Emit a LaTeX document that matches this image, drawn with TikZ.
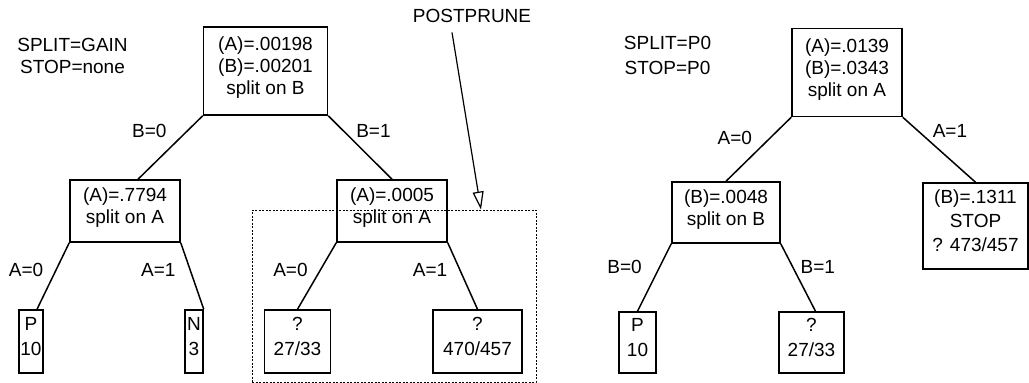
\documentclass[tikz,border=0pt]{standalone}
\usepackage{fontspec}
\setmainfont{Liberation Sans}
\usetikzlibrary{positioning, arrows.meta}

\begin{document}
\begin{tikzpicture}[
    x=1pt, y=-1pt,
    font=\fontsize{19}{22}\selectfont,
    tbox/.style={rectangle, draw, line width=1.5pt, inner sep=0pt, align=center,
                 execute at end node={\rule[-10pt]{0pt}{0pt}}},
    leaf/.style={tbox, font=\fontsize{19}{25}\selectfont},
    lbl/.style={inner sep=0pt},
    note/.style={align=center, inner sep=0pt},
    branch/.style={line width=1.5pt},
    prune/.style={draw, line width=0.9pt, dash pattern=on 2pt off 1.5pt}
  ]
  \useasboundingbox (0,0) rectangle (1029,383);

  % left tree
  \node[note] (setl) at (72.5,55.5) {SPLIT=GAIN\\STOP=none};
  \node[tbox, minimum width=124pt, minimum height=88pt] (root) at (265.5,71) {(A)=.00198\\(B)=.00201\\split on B};
  \node[tbox, minimum width=110pt, minimum height=62pt] (lchild) at (125,211) {(A)=.7794\\split on A};
  \node[tbox, minimum width=110pt, minimum height=62pt] (rchild) at (392,211) {(A)=.0005\\split on A};
  \node[leaf, minimum width=24pt, minimum height=63pt] (leafp) at (31,341.5) {P\\10};
  \node[leaf, minimum width=18pt, minimum height=63pt] (leafn) at (194,341.5) {N\\3};
  \node[leaf, minimum width=66pt, minimum height=63pt] (leafq) at (297.5,341.5) {?\\27/33};
  \node[leaf, minimum width=89pt, minimum height=63pt] (leafr) at (477.5,341.5) {?\\470/457};

  \draw[branch] (root.south west) -- ([xshift=13pt]lchild.north) node[lbl, pos=.24, left=20pt] {B=0};
  \draw[branch] (root.south east) -- (rchild.north) node[lbl, pos=.24, right=12pt] {B=1};
  \draw[branch] (lchild.south west) -- ([xshift=6pt]leafp.north) node[lbl, pos=.41, left=12pt] {A=0};
  \draw[branch] (lchild.south east) -- (leafn.north east) node[lbl, pos=.41, left=14pt] {A=1};
  \draw[branch] (rchild.south west) -- (leafq.north) node[lbl, pos=.41, left=12pt] {A=0};
  \draw[branch] (rchild.south east) -- (leafr.north) node[lbl, pos=.41, left=12pt] {A=1};

  % pruned part
  \node[prune, minimum width=284pt, minimum height=172pt] (pbox) at (394,296) {};
  \node[lbl] (ptext) at (472,15.5) {POSTPRUNE};
  \draw[line width=1.2pt, -{Triangle[open, length=18pt, width=11pt]}] ([xshift=-20pt, yshift=-10pt]ptext.south) -- ([xshift=87pt]pbox.north);

  % right tree
  \node[note, font=\fontsize{19}{25}\selectfont] (setr) at (667.5,55) {SPLIT=P0\\STOP=P0};
  \node[tbox, minimum width=110pt, minimum height=88pt] (root2) at (847,72.5) {(A)=.0139\\(B)=.0343\\split on A};
  \node[tbox, minimum width=108pt, minimum height=61pt] (nodeb) at (726,212.5) {(B)=.0048\\split on B};
  \node[tbox, font=\fontsize{19}{24}\selectfont, minimum width=105pt, minimum height=86pt] (stop) at (975.5,226) {(B)=.1311\\STOP\\? 473/457};
  \node[leaf, minimum width=37pt, minimum height=61pt] (leafp2) at (637.5,342.5) {P\\10};
  \node[leaf, minimum width=65pt, minimum height=61pt] (leafq2) at (811.5,342.5) {?\\27/33};

  \draw[branch] (root2.south west) -- (nodeb.north) node[lbl, pos=.33, left=17pt] {A=0};
  \draw[branch] (root2.south east) -- (stop.north) node[lbl, pos=.21, right=14pt] {A=1};
  \draw[branch] (nodeb.south west) -- (leafp2.north) node[lbl, pos=.35, left=17pt] {B=0};
  \draw[branch] (nodeb.south east) -- ([xshift=4pt]leafq2.north) node[lbl, pos=.35, right=7pt] {B=1};
\end{tikzpicture}
\end{document}
